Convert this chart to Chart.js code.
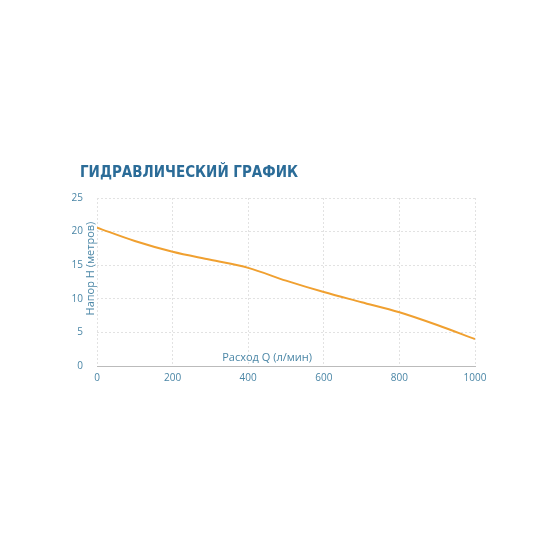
<!DOCTYPE html>
<html>
<head>
<meta charset="utf-8">
<script src="https://cdn.jsdelivr.net/npm/chart.js@4"></script>
<style>
  body { margin: 0; background: #fff; }
  #wrap { position: relative; width: 550px; height: 550px; }
  #title { position: absolute; left: 80px; top: 163px; font: bold 15px "Liberation Sans Narrow", "DejaVu Sans Condensed", sans-serif;
           color: #2b6c98; }
</style>
</head>
<body>
<div id="wrap">
  <canvas id="chart-canvas" width="550" height="550"></canvas>
  <div id="title">ГИДРАВЛИЧЕСКИЙ ГРАФИК</div>
</div>
<script>
// flow Q (l/min) and head H (m)
var flow = [0, 100, 200, 300, 400, 500, 600, 700, 800, 900, 1000];
var head = [20.6, 18.6, 17.0, 15.8, 14.6, 12.7, 11.0, 9.5, 8.0, 6.1, 4.0];
var xTicks = [0, 200, 400, 600, 800, 1000];
var yTicks = [0, 5, 10, 15, 20, 25];

var tickColor = "#4a86a6";

// axis titles drawn inside the plot, like the original
var axisTitles = {
  id: "axisTitles",
  afterDraw: function(chart) {
    var c = chart.ctx, a = chart.chartArea;
    c.save();
    c.fillStyle = tickColor;
    c.font = "11px 'Open Sans', sans-serif";
    c.textAlign = "center";
    c.textBaseline = "bottom";
    c.fillText("Расход Q (л/мин)", chart.scales.x.getPixelForValue(450), a.bottom - 3);
    c.translate(a.left - 6, chart.scales.y.getPixelForValue(14.5));
    c.rotate(-Math.PI / 2);
    c.textBaseline = "middle";
    c.fillText("Напор Н (метров)", 0, 0);
    c.restore();
  }
};

var ctx = document.getElementById("chart-canvas");
var chartCanvas = new Chart(ctx, {
  type: "line",
  data: {
    datasets: [{
      data: flow.map(function(q, i) { return { x: q, y: head[i] }; }),
      borderColor: "#f0a030",
      borderWidth: 2,
      pointRadius: 0,
      cubicInterpolationMode: "monotone",
      fill: false
    }]
  },
  plugins: [axisTitles],
  options: {
    responsive: false,
    animation: false,
    layout: { padding: { left: 50, right: 75, top: 198, bottom: 164 } },
    plugins: { legend: { display: false }, tooltip: { enabled: false } },
    scales: {
      x: {
        type: "linear", min: 0, max: 1000,
        afterBuildTicks: function(s) { s.ticks = xTicks.map(function(v) { return { value: v }; }); },
        afterFit: function(s) { s.height = 20; },
        grid: { color: "#e2e2e2", drawTicks: false },
        border: { display: true, color: "#bbbbbb", dash: [2, 2] },
        ticks: { color: tickColor, padding: 6, font: { size: 10, family: "Open Sans" },
                 callback: function(v) { return String(v); } }
      },
      y: {
        min: 0, max: 25,
        afterBuildTicks: function(s) { s.ticks = yTicks.map(function(v) { return { value: v }; }); },
        afterFit: function(s) { s.width = 47; },
        grid: { color: "#e2e2e2", drawTicks: false },
        border: { display: false, dash: [2, 2] },
        ticks: { color: tickColor, padding: 14, font: { size: 10, family: "Open Sans" } }
      }
    }
  }
});
</script>
</body>
</html>
